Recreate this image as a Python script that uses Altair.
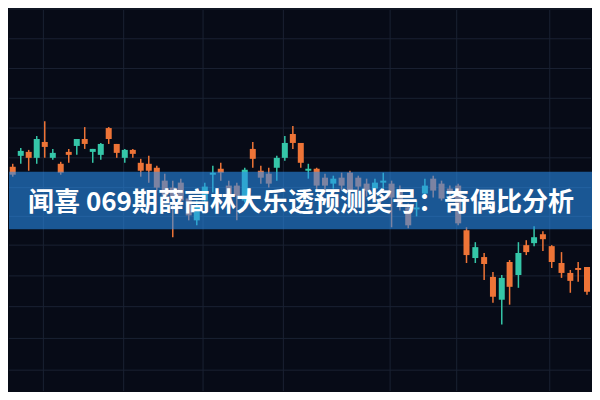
import altair as alt
import pandas as pd

# Candle positions (time axis, left to right) and OHLC values (price units)
t = [6.7, 14.9, 23.0, 31.2, 39.4, 47.6, 55.7, 63.9, 72.1, 80.2, 88.4, 96.6, 104.7, 112.9,
     121.1, 129.3, 137.4, 145.6, 153.8, 161.9, 170.1, 178.3, 186.4, 194.6, 202.8, 211.0,
     219.1, 227.3, 235.5, 243.6, 251.8, 260.0, 268.1, 276.3, 284.5, 292.7, 300.8,
     308.5, 317, 325.5, 334, 342.5, 351, 359.5, 368, 376.5, 385, 393.5, 402, 410.5, 419,
     427.5, 436, 444.5, 453, 461.5, 470,
     479, 488, 497, 506, 514, 523, 531, 539, 548, 557, 567, 576, 584, 593]

open_ = [234, 245, 249, 243, 259, 243, 237, 249, 255, 262, 249, 246, 273, 257, 243, 251, 238, 237,
         233, 220, 213, 218, 202, 180, 200, 226, 232, 215, 215, 200, 252, 230, 227, 233, 243, 267, 258,
         230, 232, 223, 217, 223, 228, 223, 217, 212, 218, 217, 210, 193, 191, 207, 222, 217, 212, 215, 170,
         142, 143, 123, 100, 138, 125, 155, 157, 166, 154, 137, 127, 132, 133]

close = [226, 250, 243, 262, 254, 248, 228, 246, 262, 257, 252, 257, 262, 248, 251, 247, 230, 230,
         213, 205, 203, 200, 185, 195, 214, 228, 228, 200, 205, 231, 242, 223, 217, 243, 258, 258, 238,
         232, 215, 215, 222, 215, 210, 214, 210, 218, 220, 203, 195, 175, 193, 215, 210, 202, 207, 177, 145,
         153, 136, 103, 122, 113, 147, 148, 163, 161, 138, 127, 119, 130, 108]

high = [237, 253, 251, 265, 280, 252, 239, 252, 262, 274, 252, 258, 274, 257, 252, 252, 242, 245,
        235, 227, 220, 222, 205, 200, 218, 235, 238, 220, 218, 233, 259, 235, 233, 245, 265, 275, 258,
        237, 233, 227, 225, 228, 230, 225, 222, 222, 228, 220, 215, 197, 200, 222, 225, 220, 215, 217, 173,
        158, 147, 128, 125, 140, 158, 160, 174, 169, 155, 148, 130, 138, 133]

low = [224, 237, 230, 237, 243, 241, 226, 238, 246, 252, 238, 241, 257, 243, 238, 243, 224, 218,
       210, 200, 163, 195, 180, 175, 195, 208, 220, 190, 180, 198, 233, 217, 213, 220, 240, 252, 233,
       222, 210, 210, 212, 210, 205, 210, 204, 208, 210, 173, 190, 172, 184, 203, 203, 200, 203, 175, 137,
       137, 120, 97, 75, 95, 112, 145, 154, 149, 132, 122, 107, 118, 105]

grid_x = [38, 120, 201, 283, 392, 460, 555]
grid_y = [393, 363, 333, 303, 273, 243, 213, 184, 155, 124, 93, 61, 29]

banner_top = [229]
banner_bottom = [171]
title_text = ["闻喜 069期薛高林大乐透预测奖号：奇偶比分析"]
title_level = [197]

df = pd.DataFrame({"t": t, "open": open_, "close": close, "high": high, "low": low})
df["dir"] = ["up" if c >= o else "down" for o, c in zip(open_, close)]

XS = alt.Scale(domain=[8, 592], nice=False, zero=False)
YS = alt.Scale(domain=[8, 392], nice=False, zero=False)
col = alt.Color("dir:N", scale=alt.Scale(domain=["up", "down"], range=["#35c6a8", "#ee7437"]), legend=None)

vgrid = alt.Chart(pd.DataFrame({"gx": grid_x})).mark_rule(color="#1a2233", strokeWidth=1).encode(
    x=alt.X("gx:Q", scale=XS, axis=None))
hgrid = alt.Chart(pd.DataFrame({"gy": grid_y})).mark_rule(color="#1a2233", strokeWidth=1).encode(
    y=alt.Y("gy:Q", scale=YS, axis=None))

base = alt.Chart(df)
wicks = base.mark_rule(strokeWidth=1.5, clip=True).encode(
    x=alt.X("t:Q", scale=XS, axis=None),
    y=alt.Y("low:Q", scale=YS, axis=None), y2="high:Q", color=col)
bodies = base.mark_bar(size=6, clip=True).encode(
    x=alt.X("t:Q", scale=XS, axis=None),
    y=alt.Y("open:Q", scale=YS, axis=None), y2="close:Q", color=col)

banner = alt.Chart(pd.DataFrame({"top": banner_top, "bottom": banner_bottom})).mark_rect(
    color="#2a8ff0", opacity=0.58).encode(
    y=alt.Y("top:Q", scale=YS, axis=None), y2="bottom:Q",
    x=alt.value(0), x2=alt.value(584))

title = alt.Chart(pd.DataFrame({"txt": title_text, "lv": title_level})).mark_text(
    font="Noto Sans CJK SC", fontSize=26, fontWeight="bold", color="#ffffff",
    align="center", baseline="middle").encode(
    x=alt.value(292), y=alt.Y("lv:Q", scale=YS, axis=None), text="txt:N")

chart = alt.layer(vgrid, hgrid, wicks, bodies, banner, title).properties(
    width=584, height=384, padding=0,
    autosize=alt.AutoSizeParams(type="fit", contains="padding"),
    background="#070b17",
).configure_view(strokeWidth=0)

chart.save("out.html", embed_options={"renderer": "svg", "actions": False})
